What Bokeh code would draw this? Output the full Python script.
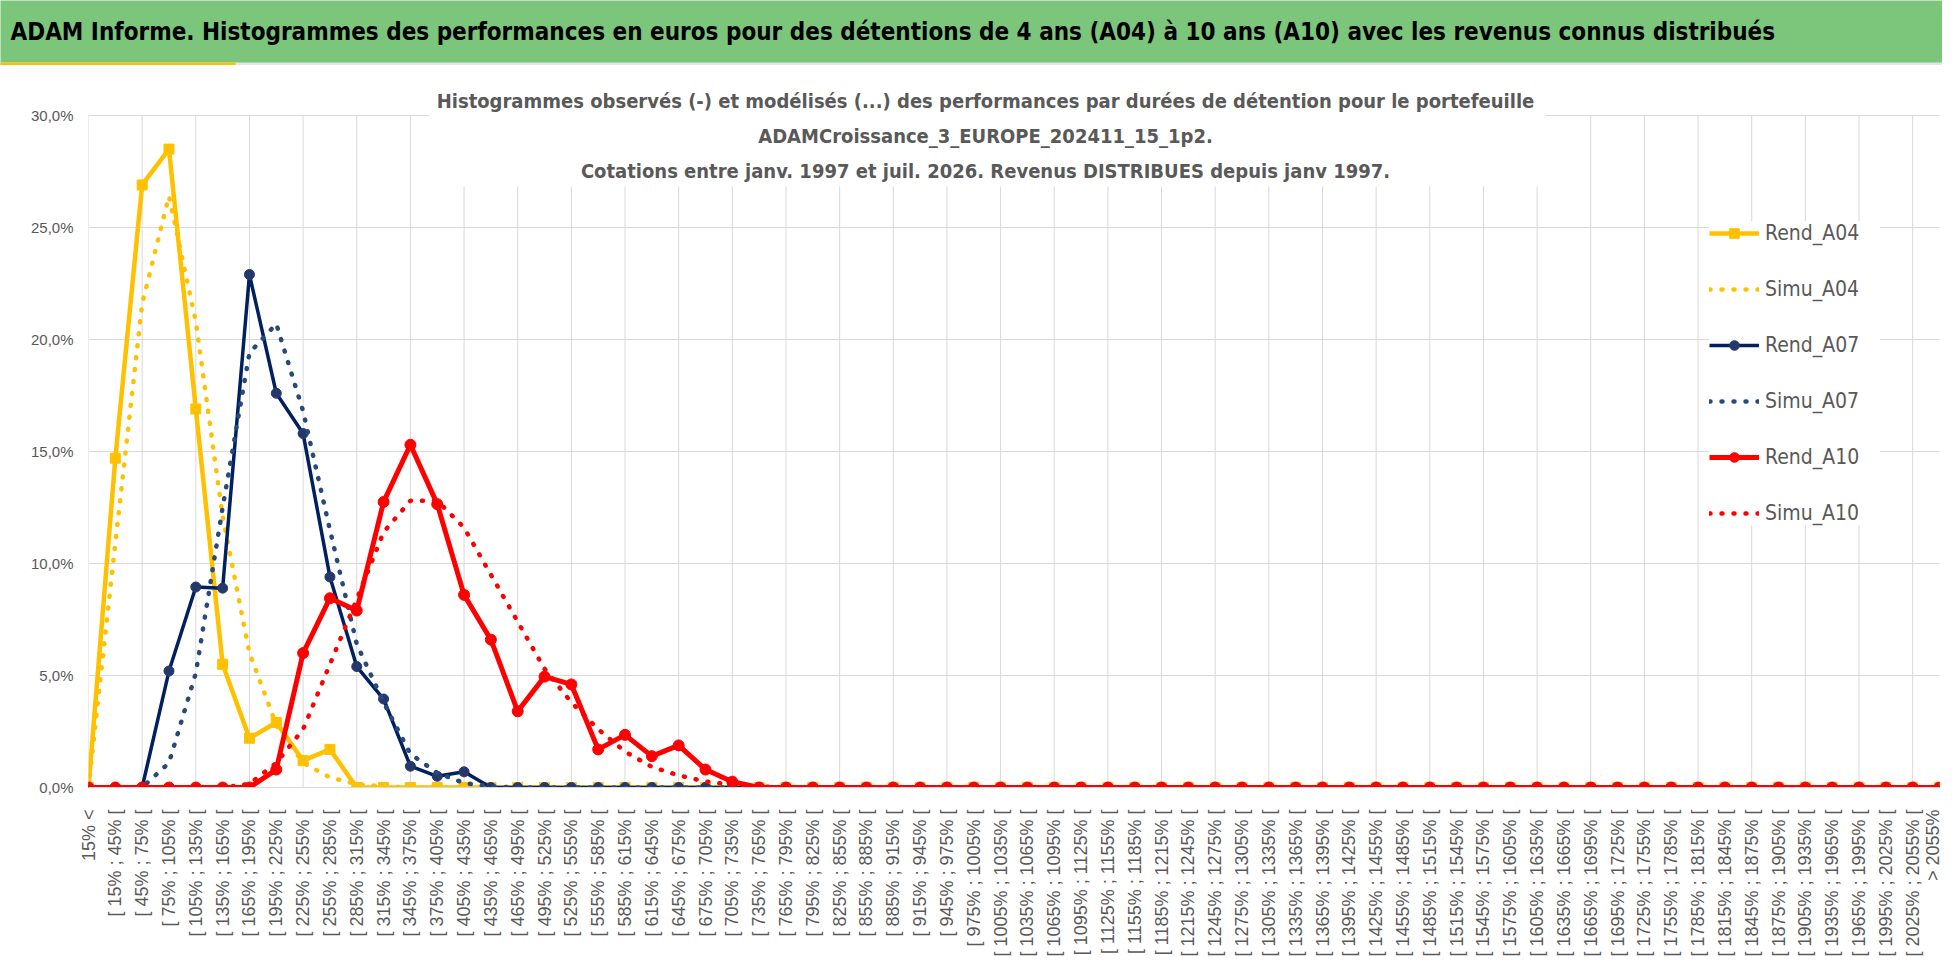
from math import pi

from bokeh.plotting import figure
from bokeh.layouts import column
from bokeh.models import (ColumnDataSource, Range1d, FixedTicker, Legend, LegendItem,
                          Label, BoxAnnotation)
from bokeh.embed import file_html
from bokeh.resources import INLINE

# bins of the histogram (x axis)
edges = list(range(15, 2055, 30))
categories = ["15% <"] + ["[ {}% ; {}% [".format(a, a + 30) for a in edges] + ["> 2055%"]

# observed (Rend) and modelled (Simu) frequencies, in %
rend_a04 = [0.0, 14.7, 26.9, 28.5, 16.9, 5.5, 2.2, 2.9, 1.2, 1.7,
            0.0, 0.0, 0.0, 0.0, 0.0, 0.0, 0.0, 0.0, 0.0, 0.0,
            0.0, 0.0, 0.0, 0.0, 0.0, 0.0, 0.0, 0.0, 0.0, 0.0,
            0.0, 0.0, 0.0, 0.0, 0.0, 0.0, 0.0, 0.0, 0.0, 0.0,
            0.0, 0.0, 0.0, 0.0, 0.0, 0.0, 0.0, 0.0, 0.0, 0.0,
            0.0, 0.0, 0.0, 0.0, 0.0, 0.0, 0.0, 0.0, 0.0, 0.0,
            0.0, 0.0, 0.0, 0.0, 0.0, 0.0, 0.0, 0.0, 0.0, 0.0]
simu_a04 = [0.0, 10.9, 21.6, 26.4, 20.8, 12.1, 6.0, 2.8, 1.1, 0.45,
            0.15, 0.05, 0.0, 0.0, 0.0, 0.0, 0.0, 0.0, 0.0, 0.0,
            0.0, 0.0, 0.0, 0.0, 0.0, 0.0, 0.0, 0.0, 0.0, 0.0,
            0.0, 0.0, 0.0, 0.0, 0.0, 0.0, 0.0, 0.0, 0.0, 0.0,
            0.0, 0.0, 0.0, 0.0, 0.0, 0.0, 0.0, 0.0, 0.0, 0.0,
            0.0, 0.0, 0.0, 0.0, 0.0, 0.0, 0.0, 0.0, 0.0, 0.0,
            0.0, 0.0, 0.0, 0.0, 0.0, 0.0, 0.0, 0.0, 0.0, 0.0]
rend_a07 = [0.0, 0.0, 0.0, 5.2, 8.95, 8.9, 22.9, 17.6, 15.8, 9.4,
            5.4, 3.95, 0.95, 0.5, 0.7, 0.0, 0.0, 0.0, 0.0, 0.0,
            0.0, 0.0, 0.0, 0.0, 0.0, 0.0, 0.0, 0.0, 0.0, 0.0,
            0.0, 0.0, 0.0, 0.0, 0.0, 0.0, 0.0, 0.0, 0.0, 0.0,
            0.0, 0.0, 0.0, 0.0, 0.0, 0.0, 0.0, 0.0, 0.0, 0.0,
            0.0, 0.0, 0.0, 0.0, 0.0, 0.0, 0.0, 0.0, 0.0, 0.0,
            0.0, 0.0, 0.0, 0.0, 0.0, 0.0, 0.0, 0.0, 0.0, 0.0]
simu_a07 = [0.0, 0.0, 0.0, 1.1, 5.1, 12.5, 19.4, 20.7, 16.8, 11.5,
            6.4, 3.8, 1.5, 0.65, 0.2, 0.05, 0.0, 0.0, 0.0, 0.0,
            0.0, 0.0, 0.0, 0.0, 0.0, 0.0, 0.0, 0.0, 0.0, 0.0,
            0.0, 0.0, 0.0, 0.0, 0.0, 0.0, 0.0, 0.0, 0.0, 0.0,
            0.0, 0.0, 0.0, 0.0, 0.0, 0.0, 0.0, 0.0, 0.0, 0.0,
            0.0, 0.0, 0.0, 0.0, 0.0, 0.0, 0.0, 0.0, 0.0, 0.0,
            0.0, 0.0, 0.0, 0.0, 0.0, 0.0, 0.0, 0.0, 0.0, 0.0]
rend_a10 = [0.0, 0.0, 0.0, 0.0, 0.0, 0.0, 0.0, 0.8, 6.0, 8.45,
            7.9, 12.75, 15.3, 12.65, 8.6, 6.6, 3.4, 4.95, 4.6, 1.7,
            2.35, 1.4, 1.88, 0.8, 0.26, 0.0, 0.0, 0.0, 0.0, 0.0,
            0.0, 0.0, 0.0, 0.0, 0.0, 0.0, 0.0, 0.0, 0.0, 0.0,
            0.0, 0.0, 0.0, 0.0, 0.0, 0.0, 0.0, 0.0, 0.0, 0.0,
            0.0, 0.0, 0.0, 0.0, 0.0, 0.0, 0.0, 0.0, 0.0, 0.0,
            0.0, 0.0, 0.0, 0.0, 0.0, 0.0, 0.0, 0.0, 0.0, 0.0]
simu_a10 = [0.0, 0.0, 0.0, 0.0, 0.0, 0.0, 0.16, 1.1, 2.6, 5.5,
            8.4, 11.4, 12.8, 12.8, 11.6, 9.5, 7.4, 5.3, 3.8, 2.6,
            1.6, 0.92, 0.54, 0.27, 0.12, 0.05, 0.0, 0.0, 0.0, 0.0,
            0.0, 0.0, 0.0, 0.0, 0.0, 0.0, 0.0, 0.0, 0.0, 0.0,
            0.0, 0.0, 0.0, 0.0, 0.0, 0.0, 0.0, 0.0, 0.0, 0.0,
            0.0, 0.0, 0.0, 0.0, 0.0, 0.0, 0.0, 0.0, 0.0, 0.0,
            0.0, 0.0, 0.0, 0.0, 0.0, 0.0, 0.0, 0.0, 0.0, 0.0]

y_ticks = [0, 5, 10, 15, 20, 25, 30]

header = ("ADAM Informe. Histogrammes des performances en euros pour des détentions "
          "de 4 ans (A04) à 10 ans (A10) avec les revenus connus distribués")
subtitle = ["Histogrammes observés (-) et modélisés (...) des performances par durées de détention pour le portefeuille",
            "ADAMCroissance_3_EUROPE_202411_15_1p2.",
            "Cotations entre janv. 1997 et juil. 2026. Revenus DISTRIBUES depuis janv 1997."]

COND = "DejaVu Sans Condensed"
GREY = "#595959"
GOLD = "#FFC000"
GRID = "#D9D9D9"

W = 1942
HEAD_H = 65
H = 963 - HEAD_H
BOTTOM, LEFT, RIGHT = 176, 88, 3
frame_h = H - BOTTOM
top_gap = 50          # px between the top of the plot area and the 30 % line

# ---- green header band
head = figure(width=W, height=HEAD_H, output_backend="svg", toolbar_location=None,
              x_range=Range1d(0, 1), y_range=Range1d(0, 1),
              x_axis_type=None, y_axis_type=None, min_border=0)
head.frame_align = False
head.grid.visible = False
head.outline_line_color = None
head.background_fill_color = "#7CC67C"
head.border_fill_color = "#7CC67C"
head.add_layout(Label(x=10, y=HEAD_H - 31, x_units="screen", y_units="screen",
                      text=header, text_baseline="middle", text_font=COND,
                      text_font_style="bold", text_font_size="24px", text_color="black"))
head.add_layout(BoxAnnotation(left=0, right=W, bottom=0, top=3,
                              left_units="screen", right_units="screen",
                              top_units="screen", bottom_units="screen",
                              fill_color="#E4E4E4", fill_alpha=1, line_color=None))
head.add_layout(BoxAnnotation(left=0, right=235, bottom=0, top=3,
                              left_units="screen", right_units="screen",
                              top_units="screen", bottom_units="screen",
                              fill_color=GOLD, fill_alpha=1, line_color=None))

# ---- chart
idx = list(range(len(categories)))
source = ColumnDataSource(dict(x=idx, rend_a04=rend_a04, simu_a04=simu_a04,
                               rend_a07=rend_a07, simu_a07=simu_a07,
                               rend_a10=rend_a10, simu_a10=simu_a10))

y_end = y_ticks[-1] * frame_h / (frame_h - top_gap)
p = figure(width=W, height=H, output_backend="svg", toolbar_location=None,
           x_range=Range1d(0, len(categories) - 1), y_range=Range1d(0, y_end),
           min_border_top=0, min_border_bottom=BOTTOM,
           min_border_left=LEFT, min_border_right=RIGHT)
p.frame_align = False
p.outline_line_color = None
p.background_fill_color = "white"
p.border_fill_color = "white"

# axes
p.yaxis.ticker = FixedTicker(ticks=y_ticks)
p.yaxis.major_label_overrides = {t: "{:.1f}%".format(t).replace(".", ",") for t in y_ticks}
p.yaxis.axis_line_color = None
p.yaxis.major_tick_line_color = None
p.yaxis.minor_tick_line_color = None
p.yaxis.major_tick_out = 0
p.yaxis.major_label_standoff = 15
p.yaxis.major_label_text_font = "Liberation Sans"
p.yaxis.major_label_text_font_size = "15px"
p.yaxis.major_label_text_color = GREY

p.xaxis.ticker = FixedTicker(ticks=idx)
p.xaxis.major_label_overrides = {i: c for i, c in zip(idx, categories)}
p.xaxis.major_label_orientation = pi / 2
p.xaxis.axis_line_color = GRID
p.xaxis.major_tick_line_color = None
p.xaxis.minor_tick_line_color = None
p.xaxis.major_tick_out = 0
p.xaxis.major_label_standoff = 22
p.xaxis.major_label_text_font = "Liberation Sans"
p.xaxis.major_label_text_font_size = "18px"
p.xaxis.major_label_text_color = GREY

p.ygrid.grid_line_color = GRID
p.xgrid.visible = False
# vertical grid lines every second bin, stopping at the top value line
grid_x = idx[::2]
p.segment(x0=grid_x, y0=[0] * len(grid_x), x1=grid_x, y1=[y_ticks[-1]] * len(grid_x),
          line_color=GRID, line_width=1, level="underlay")

# series
dots = dict(line_width=4.5, line_dash="1 11", line_cap="round")
r_a04 = p.line("x", "rend_a04", source=source, line_color=GOLD, line_width=4.5, line_join="round")
m_a04 = p.scatter("x", "rend_a04", source=source, marker="square", size=10,
                  fill_color=GOLD, line_color=GOLD)
s_a04 = p.line("x", "simu_a04", source=source, line_color=GOLD, **dots)
r_a07 = p.line("x", "rend_a07", source=source, line_color="#002060", line_width=3.5, line_join="round")
m_a07 = p.scatter("x", "rend_a07", source=source, marker="circle", size=10,
                  fill_color="#24386B", line_color="#24386B")
s_a07 = p.line("x", "simu_a07", source=source, line_color="#264A7C", **dots)
r_a10 = p.line("x", "rend_a10", source=source, line_color="#FF0000", line_width=5, line_join="round")
m_a10 = p.scatter("x", "rend_a10", source=source, marker="circle", size=11,
                  fill_color="#FF0000", line_color="#FF0000")
s_a10 = p.line("x", "simu_a10", source=source, line_color="#FF0000", **dots)

legend = Legend(items=[LegendItem(label="Rend_A04", renderers=[r_a04, m_a04]),
                       LegendItem(label="Simu_A04", renderers=[s_a04]),
                       LegendItem(label="Rend_A07", renderers=[r_a07, m_a07]),
                       LegendItem(label="Simu_A07", renderers=[s_a07]),
                       LegendItem(label="Rend_A10", renderers=[r_a10, m_a10]),
                       LegendItem(label="Simu_A10", renderers=[s_a10])],
                location=(1621, 262), glyph_width=50, glyph_height=24, label_height=24,
                label_width=115, label_standoff=6, spacing=32, padding=17, margin=0,
                border_line_color=None, background_fill_color="white", background_fill_alpha=1,
                label_text_font=COND, label_text_font_size="21px", label_text_color=GREY)
p.add_layout(legend)

# chart title block, over the plot area on a white box
p.add_layout(BoxAnnotation(left=341, right=1457, top=frame_h, bottom=frame_h - 121,
                           left_units="screen", right_units="screen",
                           top_units="screen", bottom_units="screen",
                           fill_color="white", fill_alpha=1, line_color=None))
for k, line in enumerate(subtitle):
    p.add_layout(Label(x=897, y=frame_h - 35 - 35 * k, x_units="screen", y_units="screen",
                       text=line, text_align="center", text_baseline="middle",
                       text_font=COND, text_font_style="bold", text_font_size="20px",
                       text_color=GREY))

page = column(head, p, spacing=0)
open("out.html", "w").write(file_html(page, INLINE))
